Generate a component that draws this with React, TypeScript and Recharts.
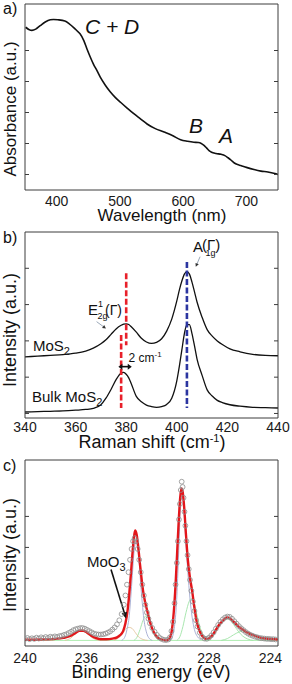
import React from 'react';
import { ComposedChart, Line, Scatter, XAxis, YAxis, ReferenceLine } from 'recharts';

// ---------------- Panel a: UV-vis absorbance ----------------
const wavelengthNm = [351, 356, 361, 367, 374, 382, 390, 395, 402, 413, 420, 427, 433, 437, 443, 448, 453, 458, 464, 469, 477, 485, 493, 501, 511, 522, 533, 543, 556, 570, 583, 596, 607, 617, 624, 628, 633, 637, 641, 645, 652, 660, 666, 671, 676, 681, 686, 691, 700, 712, 723, 734, 745, 750];
const absorbance = [4.75, 4.68, 4.65, 4.69, 4.8, 4.92, 4.99, 5.0, 4.99, 4.95, 4.86, 4.74, 4.62, 4.54, 4.32, 4.05, 3.8, 3.57, 3.34, 3.14, 2.88, 2.66, 2.48, 2.33, 2.15, 1.96, 1.79, 1.63, 1.48, 1.37, 1.26, 1.12, 1.07, 1.04, 1.03, 1.01, 0.94, 0.86, 0.77, 0.72, 0.68, 0.65, 0.61, 0.54, 0.46, 0.37, 0.32, 0.29, 0.23, 0.16, 0.11, 0.08, 0.03, 0.0];
const wavelengthLabelTicks = [400, 500, 600, 700];
const wavelengthMinorTicks = [400, 450, 500, 550, 600, 650, 700];
const absorbanceTicks = [0, 1, 2, 3, 4];

// ---------------- Panel b: Raman ----------------
const ramanShift = [340, 345, 350, 355, 360, 364, 367, 370, 372, 374, 376, 378, 379, 380, 381, 382, 384, 386, 388, 390, 392, 394, 396, 398, 400, 401, 402, 403, 404, 405, 406, 407, 408, 410, 412, 414, 416, 418, 421, 425, 430, 435, 440];
const ramanMonolayer = [1.56, 1.58, 1.6, 1.62, 1.66, 1.72, 1.8, 1.92, 2.03, 2.18, 2.33, 2.43, 2.46, 2.47, 2.45, 2.39, 2.24, 2.07, 1.97, 1.93, 1.96, 2.06, 2.27, 2.6, 3.1, 3.4, 3.65, 3.84, 3.91, 3.84, 3.62, 3.35, 3.07, 2.65, 2.31, 2.13, 2.0, 1.9, 1.78, 1.7, 1.63, 1.6, 1.59];
const ramanBulk = [0.04, 0.05, 0.06, 0.07, 0.09, 0.11, 0.14, 0.24, 0.42, 0.66, 0.93, 1.11, 1.13, 1.08, 0.98, 0.82, 0.47, 0.32, 0.23, 0.19, 0.17, 0.19, 0.25, 0.42, 0.9, 1.3, 1.75, 2.2, 2.45, 2.45, 2.2, 1.86, 1.5, 1.05, 0.65, 0.48, 0.36, 0.3, 0.24, 0.2, 0.17, 0.16, 0.15];
const ramanLabelTicks = [340, 360, 380, 400, 420, 440];
const ramanMinorTicks = [350, 360, 370, 380, 390, 400, 410, 420, 430];
const ramanYTicks = [0, 1, 2, 3, 4];
const e2gMonolayerPos = 380;
const e2gBulkPos = 378;
const a1gPos = 404;

// ---------------- Panel c: XPS Mo 3d ----------------
const fitBE = [240.0, 239.0, 238.0, 237.5, 237.0, 236.7, 236.45, 236.2, 235.95, 235.7, 235.4, 235.1, 234.7, 234.3, 234.0, 233.8, 233.6, 233.45, 233.3, 233.2, 233.1, 233.0, 232.9, 232.82, 232.72, 232.6, 232.5, 232.4, 232.3, 232.15, 232.0, 231.85, 231.7, 231.5, 231.3, 231.0, 230.75, 230.6, 230.45, 230.3, 230.18, 230.08, 229.98, 229.88, 229.8, 229.72, 229.62, 229.5, 229.38, 229.25, 229.1, 228.95, 228.8, 228.65, 228.45, 228.25, 228.1, 227.85, 227.6, 227.35, 227.1, 226.85, 226.6, 226.35, 226.1, 225.8, 225.5, 225.1, 224.7, 224.3, 223.5];
const fitValue = [0.02, 0.03, 0.05, 0.08, 0.15, 0.24, 0.31, 0.31, 0.25, 0.16, 0.08, 0.04, 0.04, 0.06, 0.1, 0.17, 0.3, 0.55, 1.0, 1.5, 2.1, 2.75, 3.3, 3.55, 3.42, 2.95, 2.45, 2.0, 1.6, 1.2, 0.9, 0.6, 0.38, 0.18, 0.07, 0.02, 0.0, 0.05, 0.25, 0.9, 1.8, 2.8, 3.8, 4.6, 4.9, 4.8, 4.3, 3.4, 2.6, 2.05, 1.6, 1.05, 0.6, 0.35, 0.15, 0.06, 0.05, 0.13, 0.3, 0.5, 0.63, 0.74, 0.7, 0.58, 0.46, 0.35, 0.25, 0.17, 0.1, 0.06, 0.03];

const measuredBE = [240.0, 239.85, 239.7, 239.55, 239.4, 239.25, 239.1, 238.95, 238.8, 238.65, 238.5, 238.35, 238.2, 238.05, 237.9, 237.75, 237.6, 237.45, 237.3, 237.15, 237.0, 236.85, 236.7, 236.55, 236.4, 236.25, 236.1, 235.95, 235.8, 235.65, 235.5, 235.35, 235.2, 235.05, 234.9, 234.75, 234.6, 234.45, 234.3, 234.15, 234.0, 233.85, 233.7, 233.55, 233.45, 233.35, 233.25, 233.15, 233.05, 232.95, 232.85, 232.75, 232.65, 232.55, 232.45, 232.35, 232.25, 232.15, 232.05, 231.95, 231.85, 231.7, 231.55, 231.4, 231.25, 231.1, 230.95, 230.8, 230.65, 230.55, 230.45, 230.35, 230.25, 230.18, 230.1, 230.03, 229.96, 229.9, 229.84, 229.78, 229.72, 229.66, 229.6, 229.54, 229.47, 229.4, 229.32, 229.24, 229.15, 229.05, 228.95, 228.85, 228.75, 228.6, 228.45, 228.3, 228.15, 228.0, 227.85, 227.7, 227.55, 227.4, 227.25, 227.1, 226.95, 226.8, 226.65, 226.5, 226.35, 226.2, 226.05, 225.9, 225.75, 225.6, 225.45, 225.3, 225.15, 225.0, 224.85, 224.7, 224.55, 224.4, 224.25, 224.1, 223.95, 223.8, 223.65];
const measuredValue = [0.05, 0.08, 0.04, 0.07, 0.05, 0.09, 0.06, 0.1, 0.07, 0.11, 0.08, 0.12, 0.1, 0.13, 0.11, 0.14, 0.15, 0.18, 0.2, 0.24, 0.28, 0.33, 0.36, 0.38, 0.4, 0.4, 0.38, 0.34, 0.3, 0.26, 0.22, 0.2, 0.19, 0.19, 0.2, 0.22, 0.25, 0.29, 0.35, 0.42, 0.52, 0.65, 0.85, 1.15, 1.45, 1.8, 2.2, 2.6, 2.95, 3.2, 3.3, 3.2, 2.95, 2.6, 2.2, 1.8, 1.45, 1.15, 0.9, 0.7, 0.55, 0.4, 0.28, 0.18, 0.1, 0.05, 0.02, 0.01, 0.03, 0.1, 0.3, 0.6, 1.2, 1.8, 2.5, 3.2, 3.9, 4.4, 4.85, 5.12, 4.95, 4.6, 4.15, 3.7, 3.2, 2.75, 2.3, 1.95, 1.6, 1.25, 0.95, 0.65, 0.45, 0.25, 0.12, 0.06, 0.05, 0.09, 0.16, 0.26, 0.38, 0.5, 0.6, 0.68, 0.74, 0.77, 0.76, 0.7, 0.62, 0.54, 0.46, 0.39, 0.33, 0.27, 0.22, 0.18, 0.15, 0.12, 0.1, 0.08, 0.07, 0.06, 0.05, 0.05, 0.04, 0.04, 0.03];

// 2H-MoS2 Mo 3d doublet (blue-grey)
const mo2hBE = [233.7, 233.5, 233.35, 233.2, 233.1, 233.0, 232.9, 232.8, 232.75, 232.65, 232.55, 232.45, 232.35, 232.25, 232.1, 231.95, 231.7, 230.6, 230.4, 230.25, 230.12, 230.02, 229.93, 229.85, 229.8, 229.72, 229.62, 229.5, 229.38, 229.25, 229.1, 228.95, 228.75, 228.5];
const mo2hValue = [0.0, 0.1, 0.35, 0.8, 1.4, 2.1, 2.8, 3.15, 3.2, 3.0, 2.5, 1.8, 1.2, 0.7, 0.3, 0.1, 0.0, 0.0, 0.1, 0.45, 1.2, 2.3, 3.5, 4.5, 4.85, 4.7, 4.1, 3.1, 2.2, 1.4, 0.75, 0.35, 0.12, 0.02];
// secondary Mo components (green)
const moAltBE = [232.9, 232.7, 232.5, 232.3, 232.1, 231.9, 231.7, 231.5, 231.3, 231.1, 230.1, 229.9, 229.7, 229.5, 229.3, 229.15, 229.0, 228.8, 228.6, 228.4, 228.2, 228.0];
const moAltValue = [0.0, 0.1, 0.35, 0.65, 0.8, 0.65, 0.35, 0.12, 0.03, 0.0, 0.0, 0.12, 0.45, 0.9, 1.25, 1.35, 1.25, 0.85, 0.45, 0.18, 0.05, 0.0];
// S 2s (green)
const s2sBE = [228.2, 227.9, 227.6, 227.3, 227.05, 226.85, 226.6, 226.35, 226.1, 225.8, 225.5, 225.1];
const s2sValue = [0.0, 0.07, 0.25, 0.5, 0.66, 0.7, 0.64, 0.48, 0.3, 0.14, 0.05, 0.0];
const s2sBroadBE = [227.2, 226.8, 226.4, 226.0, 225.8, 225.5, 225.1, 224.7, 224.3, 223.8];
const s2sBroadValue = [0.0, 0.06, 0.18, 0.28, 0.3, 0.26, 0.15, 0.06, 0.02, 0.0];
// MoO3 (orange)
const moo3BE = [237.4, 237.0, 236.7, 236.4, 236.2, 235.9, 235.6, 235.2, 234.2, 233.9, 233.6, 233.4, 233.2, 233.0, 232.8, 232.6, 232.3, 232.0];
const moo3Value = [0.0, 0.08, 0.22, 0.3, 0.29, 0.2, 0.08, 0.0, 0.0, 0.08, 0.25, 0.38, 0.42, 0.38, 0.25, 0.12, 0.03, 0.0];

const xpsLabelTicks = [240, 236, 232, 228, 224];
const xpsMinorTicks = [238, 236, 234, 232, 230, 228, 226, 224];
const xpsYTicks = [1, 2, 3, 4];

// ---------------- helpers ----------------
const zip = (xs: number[], ys: number[]) => xs.map((x, i) => ({ x, y: ys[i] }));
// split concatenated component arrays at gaps (where x jumps by more than 0.9)
const splitPeaks = (xs: number[], ys: number[]) => {
  const out: { x: number; y: number }[][] = [];
  let cur: { x: number; y: number }[] = [];
  xs.forEach((x, i) => {
    if (i > 0 && Math.abs(x - xs[i - 1]) > 0.9) {
      out.push(cur);
      cur = [];
    }
    cur.push({ x, y: ys[i] });
  });
  out.push(cur);
  return out;
};

const FONT = '"Liberation Sans", Arial, Helvetica, sans-serif';
const AXIS = '#3c3c3c';
const noTick = () => <g />;

type FrameOpts = {
  xDomain: [number, number];
  xLabelTicks: number[];
  xMinorTicks: number[];
  yDomain: [number, number];
  yTicks: number[];
  reversed?: boolean;
  labelGap: number;
};

function frameAxes(o: FrameOpts) {
  const common = {
    type: 'number' as const,
    domain: o.xDomain,
    allowDataOverflow: true,
    reversed: !!o.reversed,
    interval: 0 as const,
  };
  const yCommon = {
    type: 'number' as const,
    domain: o.yDomain,
    allowDataOverflow: true,
    ticks: o.yTicks,
    interval: 0 as const,
    mirror: true,
    width: 10,
    axisLine: { stroke: AXIS },
    tickLine: { stroke: AXIS },
    tickSize: 4,
    tick: noTick,
  };
  return [
    <XAxis
      key="xb"
      xAxisId="x"
      dataKey="x"
      {...common}
      ticks={o.xLabelTicks}
      height={38}
      tickLine={false}
      axisLine={{ stroke: AXIS }}
      tickSize={0}
      tickMargin={o.labelGap}
      tick={{ fill: '#1a1a1a', fontSize: 14, fontFamily: FONT }}
    />,
    <XAxis key="xbm" xAxisId="xbm" {...common} orientation="bottom" mirror height={10} ticks={o.xMinorTicks} axisLine={false} tickLine={{ stroke: AXIS }} tickSize={4} tick={noTick} />,
    <XAxis key="xt" xAxisId="xt" {...common} orientation="top" mirror height={10} ticks={o.xMinorTicks} axisLine={{ stroke: AXIS }} tickLine={{ stroke: AXIS }} tickSize={4} tick={noTick} />,
    <YAxis key="yl" yAxisId="y" dataKey="y" orientation="left" {...yCommon} />,
    <YAxis key="yr" yAxisId="yr" orientation="right" {...yCommon} />,
  ];
}

function arrowShape(opts: { line: string; head: string; width: number; both?: boolean; headLen?: number; headW?: number }) {
  return (p: any) => {
    const { x1, y1, x2, y2 } = p;
    const dx = x2 - x1;
    const dy = y2 - y1;
    const len = Math.hypot(dx, dy) || 1;
    const ux = dx / len;
    const uy = dy / len;
    const nx = -uy;
    const ny = ux;
    const L = opts.headLen ?? 5;
    const W = opts.headW ?? 2.5;
    const head = (tx: number, ty: number, sx: number, sy: number) =>
      `${tx},${ty} ${tx - sx * L + nx * W},${ty - sy * L + ny * W} ${tx - sx * L - nx * W},${ty - sy * L - ny * W}`;
    const sx1 = opts.both ? x1 + ux * (L - 1) : x1;
    const sy1 = opts.both ? y1 + uy * (L - 1) : y1;
    return (
      <g>
        <line x1={sx1} y1={sy1} x2={x2 - ux * (L - 1)} y2={y2 - uy * (L - 1)} stroke={opts.line} strokeWidth={opts.width} />
        <polygon points={head(x2, y2, ux, uy)} fill={opts.head} />
        {opts.both ? <polygon points={head(x1, y1, -ux, -uy)} fill={opts.head} /> : null}
      </g>
    );
  };
}

const W = 292;
const H = 228;
const MARGIN = { top: 4, right: 14, bottom: 0, left: 25 };

const panelStyle = (top: number): React.CSSProperties => ({ position: 'absolute', left: 0, top, width: W, height: H });
const overlayStyle: React.CSSProperties = { position: 'absolute', left: 0, top: 0, pointerEvents: 'none', overflow: 'visible' };

function PanelA() {
  const data = zip(wavelengthNm, absorbance);
  return (
    <div style={panelStyle(0)}>
      <ComposedChart width={W} height={H} margin={MARGIN}>
        {frameAxes({ xDomain: [350, 750], xLabelTicks: wavelengthLabelTicks, xMinorTicks: wavelengthMinorTicks, yDomain: [-0.5, 5.5], yTicks: absorbanceTicks, labelGap: 6 })}
        <Line xAxisId="x" yAxisId="y" data={data} dataKey="y" type="monotone" stroke="#111" strokeWidth={1.6} dot={false} activeDot={false} isAnimationActive={false} />
      </ComposedChart>
      <svg width={W} height={H} style={overlayStyle} fontFamily={FONT} fill="#111">
        <text x={3} y={14} fontSize={16}>a)</text>
        <text x={85} y={34} fontSize={21} fontStyle="italic">C + D</text>
        <text x={189} y={133} fontSize={21} fontStyle="italic">B</text>
        <text x={219} y={143} fontSize={21} fontStyle="italic">A</text>
        <text x={162} y={221} fontSize={17} textAnchor="middle">Wavelength (nm)</text>
        <text x={16} y={109} fontSize={17} textAnchor="middle" transform="rotate(-90 16 109)">Absorbance (a.u.)</text>
      </svg>
    </div>
  );
}

function PanelB() {
  const mono = zip(ramanShift, ramanMonolayer);
  const bulk = zip(ramanShift, ramanBulk);
  const dash = { strokeWidth: 2.6, strokeDasharray: '6 2.5', ifOverflow: 'visible' as const };
  return (
    <div style={panelStyle(228)}>
      <ComposedChart width={W} height={H} margin={MARGIN}>
        {frameAxes({ xDomain: [340, 440], xLabelTicks: ramanLabelTicks, xMinorTicks: ramanMinorTicks, yDomain: [-0.125, 5], yTicks: ramanYTicks, labelGap: 4 })}
        <Line xAxisId="x" yAxisId="y" data={mono} dataKey="y" type="monotone" stroke="#111" strokeWidth={1.3} dot={false} activeDot={false} isAnimationActive={false} />
        <Line xAxisId="x" yAxisId="y" data={bulk} dataKey="y" type="monotone" stroke="#111" strokeWidth={1.3} dot={false} activeDot={false} isAnimationActive={false} />
        <ReferenceLine xAxisId="x" yAxisId="y" segment={[{ x: e2gMonolayerPos, y: 3.86 }, { x: e2gMonolayerPos, y: 1.88 }]} stroke="#e8202a" {...dash} />
        <ReferenceLine xAxisId="x" yAxisId="y" segment={[{ x: e2gBulkPos, y: 2.16 }, { x: e2gBulkPos, y: 0.15 }]} stroke="#e8202a" {...dash} />
        <ReferenceLine xAxisId="x" yAxisId="y" segment={[{ x: a1gPos, y: 4.17 }, { x: a1gPos, y: 0.15 }]} stroke="#2b35a0" {...dash} />
        <ReferenceLine xAxisId="x" yAxisId="y" segment={[{ x: 376.9, y: 1.29 }, { x: 382.2, y: 1.29 }]} ifOverflow="visible" shape={arrowShape({ line: '#111', head: '#111', width: 1.6, both: true, headLen: 4, headW: 3 })} />
        <ReferenceLine xAxisId="x" yAxisId="y" segment={[{ x: 368.3, y: 2.53 }, { x: 372.0, y: 2.34 }]} ifOverflow="visible" shape={arrowShape({ line: '#9aa8b8', head: '#333', width: 1, headLen: 3.5, headW: 1.8 })} />
        <ReferenceLine xAxisId="x" yAxisId="y" segment={[{ x: 409.2, y: 4.32 }, { x: 407.5, y: 4.04 }]} ifOverflow="visible" shape={arrowShape({ line: '#9aa8b8', head: '#333', width: 1, headLen: 3.5, headW: 1.8 })} />
      </ComposedChart>
      <svg width={W} height={H} style={overlayStyle} fontFamily={FONT} fill="#111">
        <text x={3} y={15} fontSize={16}>b)</text>
        <text x={152} y={220} fontSize={18} textAnchor="middle">
          Raman shift (cm<tspan fontSize={11} dy={-6}>-1</tspan><tspan dy={6}>)</tspan>
        </text>
        <text x={16} y={102} fontSize={18} textAnchor="middle" transform="rotate(-90 16 102)">Intensity (a.u.)</text>
        <text x={33} y={123} fontSize={15}>MoS<tspan fontSize={11} dy={4}>2</tspan></text>
        <text x={32} y={173.5} fontSize={15}>Bulk MoS<tspan fontSize={11} dy={4}>2</tspan></text>
        <text x={88} y={87} fontSize={15}>
          E<tspan x={98} dy={-8} fontSize={9}>1</tspan>
          <tspan x={97.5} dy={12} fontSize={9}>2g</tspan>
          <tspan x={105} dy={-4} fontSize={14}>(Γ)</tspan>
        </text>
        <text x={193} y={23.5} fontSize={15}>
          A<tspan x={202} dy={-2}>(Γ)</tspan>
          <tspan x={205.5} dy={6.5} fontSize={9}>1g</tspan>
        </text>
        <text x={128.5} y={134} fontSize={12}>2 cm<tspan fontSize={8} dy={-5}>-1</tspan></text>
      </svg>
    </div>
  );
}

function PanelC() {
  const fit = zip(fitBE, fitValue);
  const measured = zip(measuredBE, measuredValue);
  const blue = splitPeaks(mo2hBE, mo2hValue);
  const green = [...splitPeaks(moAltBE, moAltValue), zip(s2sBE, s2sValue), zip(s2sBroadBE, s2sBroadValue)];
  const orange = splitPeaks(moo3BE, moo3Value);
  const comp = (d: { x: number; y: number }[], color: string, key: string) => (
    <Line key={key} xAxisId="x" yAxisId="y" data={d} dataKey="y" type="monotone" stroke={color} strokeWidth={0.9} dot={false} activeDot={false} isAnimationActive={false} />
  );
  return (
    <div style={panelStyle(456)}>
      <ComposedChart width={W} height={H} margin={MARGIN}>
        {frameAxes({ xDomain: [223.5, 240], xLabelTicks: xpsLabelTicks, xMinorTicks: xpsMinorTicks, yDomain: [-0.18, 5.82], yTicks: xpsYTicks, reversed: true, labelGap: 7 })}
        <ReferenceLine xAxisId="x" yAxisId="y" y={0} stroke="#a6eaa8" strokeWidth={0.9} />
        {green.map((d, i) => comp(d, '#9fe3a6', `g${i}`))}
        {orange.map((d, i) => comp(d, '#e2c49c', `o${i}`))}
        {blue.map((d, i) => comp(d, '#a2a9d0', `b${i}`))}
        <Scatter
          xAxisId="x"
          yAxisId="y"
          data={measured}
          isAnimationActive={false}
          shape={(p: any) => <circle cx={p.cx} cy={p.cy} r={2.4} fill="none" stroke="#8e8e8e" strokeWidth={0.8} />}
        />
        <Line xAxisId="x" yAxisId="y" data={fit} dataKey="y" type="monotone" stroke="#e3161b" strokeWidth={2.4} dot={false} activeDot={false} isAnimationActive={false} />
        <ReferenceLine xAxisId="x" yAxisId="y" segment={[{ x: 234.39, y: 2.29 }, { x: 233.41, y: 0.71 }]} ifOverflow="visible" shape={arrowShape({ line: '#111', head: '#111', width: 1.6, headLen: 6, headW: 2.8 })} />
      </ComposedChart>
      <svg width={W} height={H} style={overlayStyle} fontFamily={FONT} fill="#111">
        <text x={3} y={15} fontSize={16}>c)</text>
        <text x={151} y={222} fontSize={18} textAnchor="middle">Binding energy (eV)</text>
        <text x={16} y={99} fontSize={18} textAnchor="middle" transform="rotate(-90 16 99)">Intensity (a.u.)</text>
        <text x={87} y={110.5} fontSize={15}>MoO<tspan fontSize={11} dy={4}>3</tspan></text>
      </svg>
    </div>
  );
}

export default function App() {
  return (
    <div style={{ position: 'absolute', left: 0, top: 0, width: W, height: 684, background: '#fff', fontFamily: FONT }}>
      <PanelA />
      <PanelB />
      <PanelC />
    </div>
  );
}
